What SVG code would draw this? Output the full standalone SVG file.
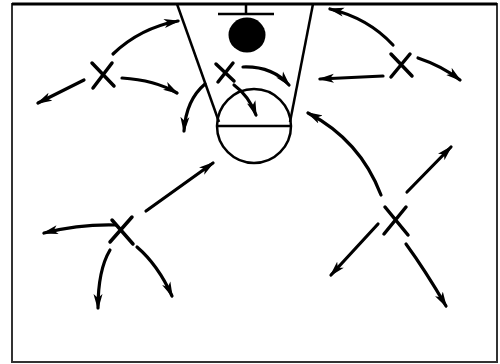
<svg xmlns="http://www.w3.org/2000/svg" width="500" height="364" viewBox="0 0 500 364">
<style>
.court{fill:none;stroke:#000;stroke-width:2.5}
.x{fill:none;stroke:#000;stroke-width:3.5;stroke-linecap:round}
.arr{fill:none;stroke:#000;stroke-width:3.2;stroke-linecap:round;marker-end:url(#ah)}
</style>
<defs>
<marker id="ah" viewBox="0 0 16 10" refX="14" refY="5" markerWidth="16" markerHeight="10" markerUnits="userSpaceOnUse" orient="auto">
<path d="M0,0.5 L16,5 L0,9.5 L4,5 z" fill="#000"/>
</marker>
</defs>
<rect width="500" height="364" fill="#fff"/>
<g id="court">
<rect x="12" y="4" width="485" height="358" fill="none" stroke="#333" stroke-width="2"/>
<line x1="12" y1="4" x2="497" y2="4" stroke="#000" stroke-width="3"/>
<line class="court" x1="177" y1="4" x2="219" y2="122"/>
<line class="court" x1="313" y1="4" x2="290" y2="122"/>
<circle class="court" cx="254" cy="126" r="37"/>
<line class="court" x1="218" y1="126" x2="290" y2="126"/>
<line class="court" x1="218" y1="14" x2="274" y2="14"/>
<line class="court" x1="246" y1="4" x2="246" y2="14"/>
<ellipse cx="247" cy="35" rx="18.5" ry="17.5" fill="#000"/>
</g>
<g id="player-top">
<path class="x" d="M216,64 L234,81 M233,63 L218,82"/>
</g>
<g id="player-left">
<path class="x" d="M92,63 L114,86 M112,63 L93,88"/>
</g>
<g id="player-right-top">
<path class="x" d="M391,54 L412,76 M410,54 L391,77"/>
</g>
<g id="player-right-bottom">
<path class="x" d="M385,207 L408,235 M406,207 L384,234"/>
</g>
<g id="player-left-bottom">
<path class="x" d="M112,220 L133,244 M132,217 L110,242"/>
</g>
<g id="connectors">
<path class="arr" d="M113,54 Q140,28 178,21"/>
<path class="arr" d="M84,80 L38,103"/>
<path class="arr" d="M122,78 Q155,80 177,93"/>
<path class="arr" d="M234,85 Q249,96 256,115"/>
<path class="arr" d="M243,67 Q272,66 289,85"/>
<path class="arr" d="M205,84 Q186,100 184,131"/>
<path class="arr" d="M393,45 Q368,18 330,9"/>
<path class="arr" d="M383,76 L320,79"/>
<path class="arr" d="M418,58 Q442,66 460,80"/>
<path class="arr" d="M381,195 Q360,140 308,113"/>
<path class="arr" d="M407,192 L451,147"/>
<path class="arr" d="M378,224 L331,275"/>
<path class="arr" d="M406,244 Q425,270 446,306"/>
<path class="arr" d="M146,211 L213,163"/>
<path class="arr" d="M116,225 Q80,224 44,233"/>
<path class="arr" d="M110,250 Q98,270 98,308"/>
<path class="arr" d="M137,247 Q158,265 172,296"/>
</g>
</svg>
